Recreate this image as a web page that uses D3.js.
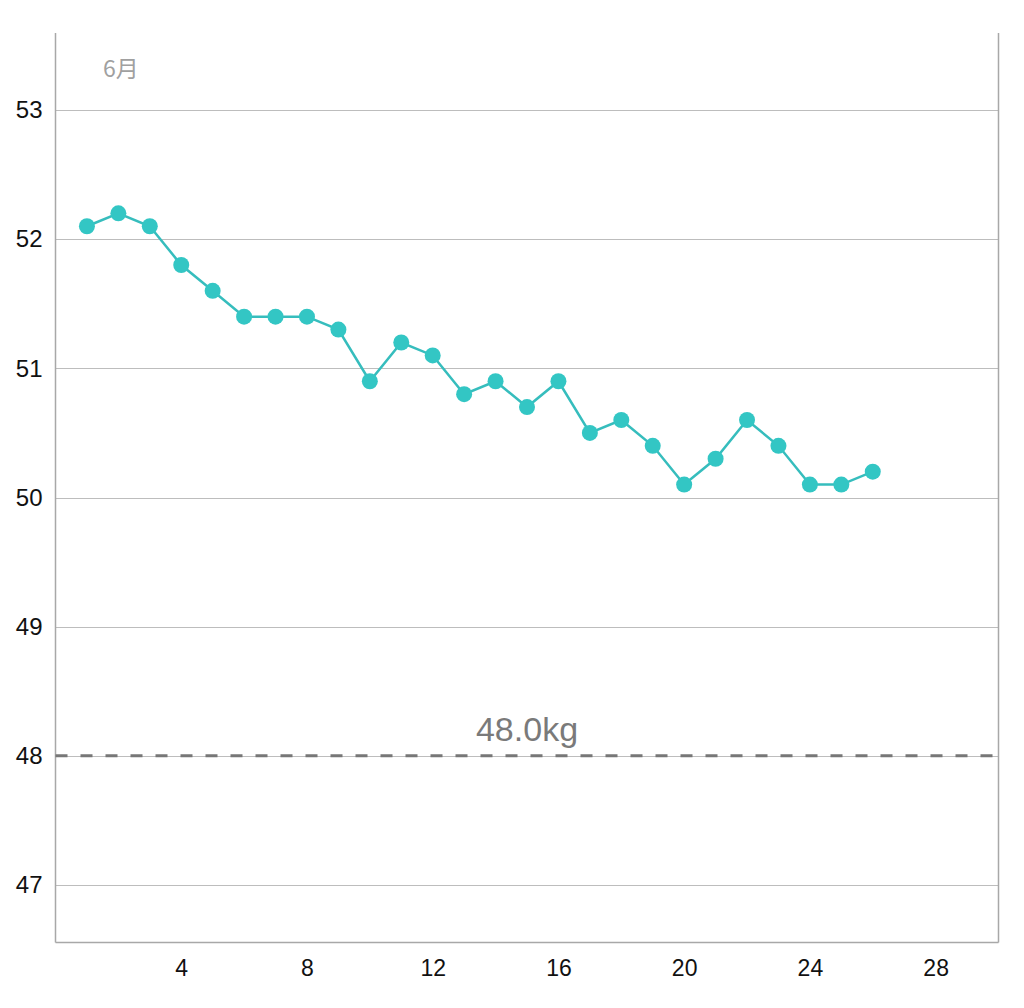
<!DOCTYPE html>
<html><head><meta charset="utf-8">
<script src="https://cdn.jsdelivr.net/npm/d3@7"></script>
<style>body{margin:0;background:#fff;font-family:"Helvetica Neue",Arial,"Liberation Sans","Noto Sans",sans-serif;}</style>
</head><body><svg id="c" width="1024" height="1008"></svg>
<script>
const days = [1,2,3,4,5,6,7,8,9,10,11,12,13,14,15,16,17,18,19,20,21,22,23,24,25,26];
const weights = [52.1,52.2,52.1,51.8,51.6,51.4,51.4,51.4,51.3,50.9,51.2,51.1,50.8,50.9,50.7,50.9,50.5,50.6,50.4,50.1,50.3,50.6,50.4,50.1,50.1,50.2];
const yTicks = [47,48,49,50,51,52,53];
const xTicks = [4,8,12,16,20,24,28];
const goal = 48;
const goalLabel = "48.0kg";
const monthLabel = "6月";

const svg = d3.select("#c");
const L = 55.5, R = 998.5, T = 33, B = 942.5;
const x = d3.scaleLinear().domain([0,30]).range([L,R]);
const y = d3.scaleLinear().domain([47,53]).range([885,110]);
const FONT = "Helvetica Neue, Arial, Liberation Sans, sans-serif";

// grid
svg.append("g").selectAll("line").data(yTicks).join("line")
  .attr("x1",L).attr("x2",R).attr("y1",d=>Math.round(y(d))+0.5).attr("y2",d=>Math.round(y(d))+0.5)
  .attr("stroke","#bdbdbd").attr("stroke-width",1);

// frame
svg.append("line").attr("x1",L).attr("x2",L).attr("y1",T).attr("y2",B).attr("stroke","#a8a8a8").attr("stroke-width",1.5);
svg.append("line").attr("x1",R).attr("x2",R).attr("y1",T).attr("y2",B).attr("stroke","#a8a8a8").attr("stroke-width",1.5);
svg.append("line").attr("x1",L).attr("x2",R).attr("y1",B).attr("y2",B).attr("stroke","#a8a8a8").attr("stroke-width",1.5);

// y labels
const yAxis = d3.axisLeft(y).tickValues(yTicks).tickSize(0).tickPadding(13).tickFormat(d3.format("d"));
const gy = svg.append("g").attr("transform",`translate(${L},0)`).call(yAxis);
gy.select(".domain").remove();
gy.selectAll("text").attr("font-size",24).attr("fill","#111").attr("font-family",FONT);

// x labels
const xAxis = d3.axisBottom(x).tickValues(xTicks).tickSize(0).tickPadding(17).tickFormat(d3.format("d"));
const gx = svg.append("g").attr("transform",`translate(0,${B})`).call(xAxis);
gx.select(".domain").remove();
gx.selectAll("text").attr("font-size",23).attr("fill","#111").attr("font-family",FONT);

// goal line
svg.append("line").attr("x1",L).attr("x2",R).attr("y1",y(goal)).attr("y2",y(goal))
  .attr("stroke","#777").attr("stroke-width",3).attr("stroke-dasharray","12,13");
svg.append("text").attr("x",527).attr("y",741).attr("text-anchor","middle")
  .attr("font-size",34).attr("fill","#7a7a7a").attr("font-family",FONT).text(goalLabel);

// month
svg.append("text").attr("x",121).attr("y",77).attr("text-anchor","middle")
  .attr("font-size",23).attr("fill","#a0a0a0").attr("font-family","Noto Sans CJK JP, sans-serif").text(monthLabel);

// series
const data = days.map((d,i)=>({d, w:weights[i]}));
svg.append("path").datum(data).attr("fill","none").attr("stroke","#36bdbd").attr("stroke-width",2.5)
  .attr("d", d3.line().x(p=>x(p.d)).y(p=>y(p.w)));
svg.append("g").selectAll("circle").data(data).join("circle")
  .attr("cx",p=>x(p.d)).attr("cy",p=>y(p.w)).attr("r",8).attr("fill","#33c6c4");
</script></body></html>
